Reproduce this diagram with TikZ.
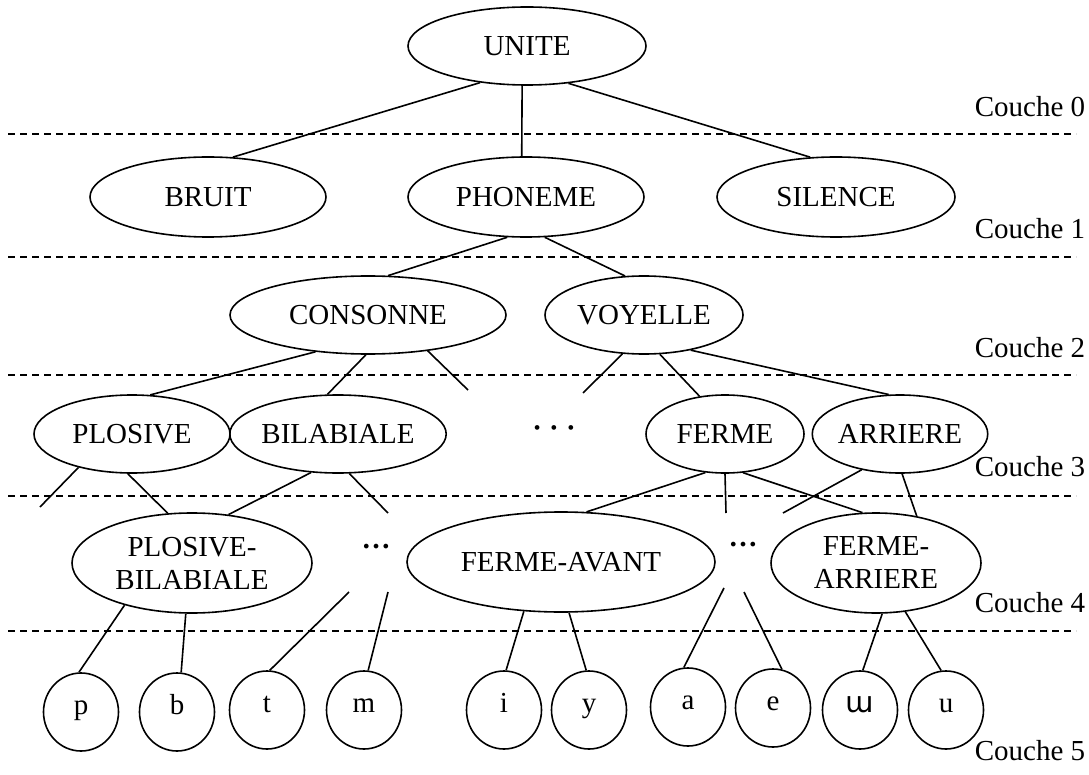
\documentclass[tikz,border=0pt]{standalone}
\usepackage{fontspec}
\setmainfont{Liberation Serif}
\newfontfamily\ipafont{DejaVu Sans}
\usepackage{tikz}
\usetikzlibrary{shapes.geometric}

\begin{document}
\begin{tikzpicture}[x=1pt, y=-1pt, line width=1.6pt,
		font=\fontsize{29}{33}\selectfont,
		unit/.style={draw, ellipse, inner sep=0pt, align=center},
		leaf/.style={draw, ellipse, inner sep=0pt, minimum width=75pt, minimum height=78pt, text height=4pt, text depth=0pt},
		layer/.style={anchor=west, inner sep=0pt},
		sep/.style={line width=1.4pt, dash pattern=on 7pt off 5pt}]
		
		\useasboundingbox (0,0) rectangle (1089,775);
		
		% Layers
		\draw[sep] (8,134) -- (1076,134);
		\draw[sep] (8,257) -- (1076,257);
		\draw[sep] (8,375) -- (1076,375);
		\draw[sep] (8,496) -- (1076,496);
		\draw[sep] (8,631) -- (1076,631);
		\node[layer] (c0) at (974,107) {Couche 0};
		\node[layer] (c1) at (974,229) {Couche 1};
		\node[layer] (c2) at (974,348) {Couche 2};
		\node[layer] (c3) at (974,467) {Couche 3};
		\node[layer] (c4) at (974,603) {Couche 4};
		\node[layer] (c5) at (974,751) {Couche 5};
		
		% Units
		\node[unit, minimum width=238pt, minimum height=78pt] (unite) at (527,46) {UNITE};
		\node[unit, minimum width=236pt, minimum height=80pt] (bruit) at (208,197) {BRUIT};
		\node[unit, minimum width=236pt, minimum height=80pt] (phon) at (526,197) {PHONEME};
		\node[unit, minimum width=238pt, minimum height=80pt] (sil) at (836,197) {SILENCE};
		\node[unit, minimum width=276pt, minimum height=78pt] (cons) at (368,315) {CONSONNE};
		\node[unit, minimum width=198pt, minimum height=78pt] (voy) at (644,315) {VOYELLE};
		\node[unit, minimum width=196pt, minimum height=78pt] (plos) at (132,434) {PLOSIVE};
		\node[unit, minimum width=196pt, minimum height=78pt] (bila) at (338,434) {BILABIALE};
		\node[inner sep=0pt, text height=16pt, text depth=0pt] (dots3) at (554,429) {\textbf{· · ·}};
		\node[unit, minimum width=158pt, minimum height=78pt] (ferme) at (725,434) {FERME};
		\node[unit, minimum width=156pt, minimum height=78pt] (arr) at (900,434) {ARRIERE};
		\node[unit, minimum width=240pt, minimum height=100pt] (pb) at (192,563) {PLOSIVE-\\BILABIALE};
		\node[inner sep=0pt, text height=5pt, text depth=0pt] (dots4a) at (376,546) {\textbf{…}};
		\node[unit, minimum width=308pt, minimum height=100pt] (fa) at (561,562) {FERME-AVANT};
		\node[inner sep=0pt, text height=5pt, text depth=0pt] (dots4b) at (743,544) {\textbf{…}};
		\node[unit, minimum width=210pt, minimum height=100pt] (far) at (876,563) {FERME-\\ARRIERE};
		
		% Phones
		\node[leaf] (p) at (81,712) {p};
		\node[leaf] (b) at (177,712) {b};
		\node[leaf] (t) at (267,710) {t};
		\node[leaf] (m) at (364,710) {m};
		\node[leaf] (i) at (504,710) {i};
		\node[leaf] (y) at (589,710) {y};
		\node[leaf] (a) at (688,707) {a};
		\node[leaf] (e) at (773,708) {e};
		\node[leaf] (w) at (860,710) {\ipafont ɯ};
		\node[leaf] (u) at (946,710) {u};
		
		% Free ends
		\coordinate (cons-r) at (468,390);
		\coordinate (voy-l) at (583,393);
		\coordinate (plos-l) at (40,507);
		\coordinate (bila-r) at (388,513);
		\coordinate (ferme-m) at (726,513);
		\coordinate (arr-l) at (783,513);
		\coordinate (dl1) at (349,592);
		\coordinate (dl2) at (388,592);
		\coordinate (dr1) at (724,588);
		\coordinate (dr2) at (744,592);
		
		% Edges
		\draw (unite.218) -- (bruit.58);
		\draw (unite.263) -- (phon.96);
		\draw (unite.318) -- (sil.123);
		\draw (phon.245) -- (cons.63);
		\draw (phon.295) -- (voy.116);
		\draw (cons.215) -- (plos.65);
		\draw (cons.267) -- (bila.105);
		\draw (cons.329) -- (cons-r);
		\draw (voy.241) -- (voy-l);
		\draw (voy.292) -- (ferme.124);
		\draw (voy.323) -- (arr.106);
		\draw (plos.212) -- (plos-l);
		\draw (plos.264) -- (pb.116);
		\draw (bila.235) -- (pb.53);
		\draw (bila.286) -- (bila-r);
		\draw (ferme.243) -- (fa.63);
		\draw (ferme.270) -- (ferme-m);
		\draw (ferme.295) -- (far.105);
		\draw (arr.223) -- (arr-l);
		\draw (arr.273) -- (far.49);
		\draw (pb.212) -- (p.93);
		\draw (pb.263) -- (b.84);
		\draw (dl1) -- (t.86);
		\draw (dl2) -- (m.84);
		\draw (fa.233) -- (i.87);
		\draw (fa.279) -- (y.94);
		\draw (dr1) -- (a.96);
		\draw (dr2) -- (e.77);
		\draw (far.277) -- (w.86);
		\draw (far.301) -- (u.97);
		
	\end{tikzpicture}
\end{document}
